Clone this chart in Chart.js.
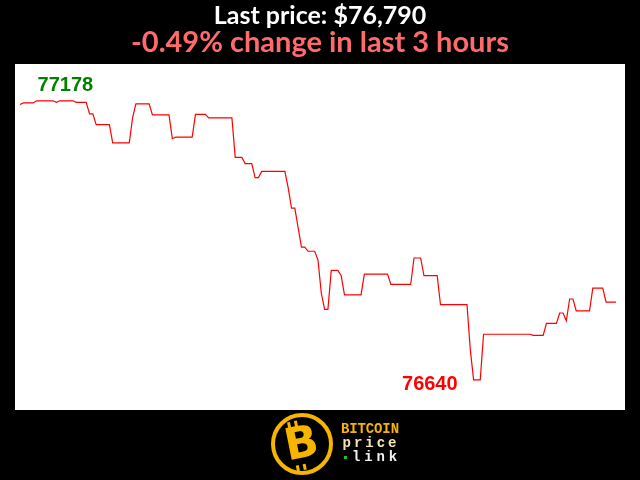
<!DOCTYPE html>
<html>
<head>
<meta charset="utf-8">
<script src="https://cdn.jsdelivr.net/npm/chart.js@4/dist/chart.umd.min.js"></script>
<style>
  html, body { margin: 0; padding: 0; background: #000; }
  #wrap { width: 640px; height: 480px; }
</style>
</head>
<body>
<div id="wrap"><canvas id="c" width="640" height="480"></canvas></div>
<script>
// Minutes since start of the 3-hour window
const minutes = [0,1,4,5,10,11,12,16,17,20,21,22,23,27,28,33,34,35,39,40,45,46,47,52,53,56,57,64,65,67,68,70,71,72,73,80,81,82,83,85,86,87,89,90,91,92,93,94,96,97,98,103,104,111,112,118,119,121,122,126,127,135,136,137,139,140,154,155,158,159,162,163,164,165,166,167,168,172,173,176,177,180];
// BTC price (USD)
const prices = [77171,77174,77174,77178,77178,77175,77178,77178,77175,77175,77153,77153,77132,77132,77097,77097,77145,77172,77172,77151,77151,77105,77108,77108,77152,77152,77145,77145,77069,77069,77057,77057,77030,77030,77042,77042,77010,76971,76971,76896,76896,76888,76888,76871,76807,76776,76776,76851,76851,76841,76804,76804,76844,76844,76824,76824,76875,76875,76841,76841,76785,76785,76698,76640,76640,76728,76728,76726,76726,76749,76749,76769,76769,76754,76796,76796,76773,76773,76817,76817,76790,76790];

const titleText = 'Last price: $76,790';
const subtitleText = '-0.49% change in last 3 hours';

const points = minutes.map((m, i) => ({ x: m, y: prices[i] }));

const bgPlugin = {
  id: 'bg',
  beforeDraw(chart) {
    const { ctx, chartArea: a } = chart;
    ctx.save();
    ctx.fillStyle = '#000';
    ctx.fillRect(0, 0, chart.width, chart.height);
    ctx.fillStyle = '#fff';
    ctx.fillRect(a.left, a.top, a.right - a.left, a.bottom - a.top);
    ctx.restore();
  }
};

const extremaPlugin = {
  id: 'extrema',
  afterDatasetsDraw(chart) {
    const { ctx, scales } = chart;
    const maxV = Math.max(...prices), minV = Math.min(...prices);
    const iMax = prices.indexOf(maxV), iMin = prices.indexOf(minV);
    ctx.save();
    ctx.font = 'bold 20px "Liberation Sans", Arial, sans-serif';
    ctx.textBaseline = 'alphabetic';
    ctx.fillStyle = '#008000';
    ctx.textAlign = 'left';
    ctx.fillText(String(maxV), scales.x.getPixelForValue(minutes[iMax]) + 1, scales.y.getPixelForValue(maxV) - 10);
    ctx.fillStyle = '#ff0000';
    ctx.textAlign = 'right';
    ctx.fillText(String(minV), scales.x.getPixelForValue(minutes[iMin]) - 16, scales.y.getPixelForValue(minV) + 10);
    ctx.restore();
  }
};

const logoPlugin = {
  id: 'logo',
  afterDraw(chart) {
    const ctx = chart.ctx;
    const gold = '#f7b500';
    ctx.save();
    ctx.beginPath();
    ctx.arc(302, 444, 29, 0, Math.PI * 2);
    ctx.lineWidth = 4;
    ctx.strokeStyle = gold;
    ctx.stroke();
    ctx.translate(302, 446);
    ctx.rotate(-0.2);
    ctx.fillStyle = gold;
    ctx.font = 'bold 44px "DejaVu Sans", sans-serif';
    ctx.textAlign = 'center';
    ctx.textBaseline = 'middle';
    ctx.fillText('B', 0, 0);
    ctx.fillRect(-10, -26, 3, 6);
    ctx.fillRect(-3, -26, 3, 6);
    ctx.fillRect(-10, 18, 3, 6);
    ctx.fillRect(-3, 18, 3, 6);
    ctx.restore();

    ctx.save();
    ctx.font = 'bold 14px "Liberation Mono", "DejaVu Sans Mono", monospace';
    ctx.textBaseline = 'middle';
    ctx.textAlign = 'center';
    const spread = (txt, x0, x1, y, color) => {
      ctx.fillStyle = color;
      const n = txt.length;
      const step = (x1 - x0) / n;
      for (let i = 0; i < n; i++) ctx.fillText(txt[i], x0 + step * (i + 0.5), y);
    };
    spread('BITCOIN', 341, 399, 429, gold);
    spread('price', 341, 398, 443, '#f5e6b0');
    spread('link', 350, 399, 457, '#f0f0f0');
    ctx.fillStyle = '#22c02a';
    ctx.fillRect(344, 456, 3, 3);
    ctx.restore();
  }
};

new Chart(document.getElementById('c'), {
  type: 'line',
  data: {
    datasets: [{
      data: points,
      borderColor: '#ff0000',
      borderWidth: 1.2,
      pointRadius: 0,
      tension: 0,
      fill: false
    }]
  },
  options: {
    responsive: false,
    animation: false,
    layout: { padding: { left: 15, right: 15, top: 0, bottom: 70 } },
    scales: {
      x: { type: 'linear', display: false, min: -1.51, max: 182.72 },
      y: { type: 'linear', display: false, min: 76582, max: 77249 }
    },
    plugins: {
      legend: { display: false },
      tooltip: { enabled: false },
      title: {
        display: true,
        text: titleText,
        color: '#ffffff',
        font: { family: 'Lato', size: 25, weight: 'bold', lineHeight: 1 },
        padding: { top: 3, bottom: 0 }
      },
      subtitle: {
        display: true,
        text: subtitleText,
        color: '#ff6b6b',
        font: { family: 'Lato', size: 29, weight: 'bold', lineHeight: 1 },
        padding: { top: 0, bottom: 7 }
      }
    }
  },
  plugins: [bgPlugin, extremaPlugin, logoPlugin]
});
</script>
</body>
</html>
